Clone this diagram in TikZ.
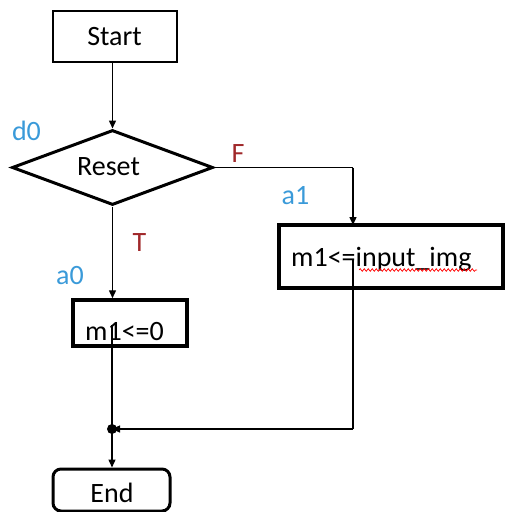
\documentclass[tikz,border=0pt]{standalone}
\usepackage{fontspec}
\setmainfont{Carlito}
\usetikzlibrary{shapes.geometric,arrows.meta,decorations.pathmorphing}
\definecolor{lblblue}{HTML}{3A9AD9}
\definecolor{lblred}{HTML}{A0282A}
\begin{document}
\begin{tikzpicture}[x=1pt,y=-1pt,
  every node/.style={font=\fontsize{28}{33}\selectfont},
  conn/.style={line width=1.4pt,-{Triangle[length=8pt,width=7pt]}},
  plain/.style={line width=1.4pt},
  lblb/.style={text=lblblue,anchor=base,inner sep=0},
  lblr/.style={text=lblred,anchor=base,inner sep=0},
]
\useasboundingbox (0,0) rectangle (506,512);
% nodes
\node[draw,line width=1.3pt,minimum width=124pt,minimum height=51pt,inner sep=0] (start) at (115,36.5) {};
\node[anchor=base,inner sep=0] (starttxt) at (114.5,45) {Start};
\node[draw,diamond,line width=3pt,minimum width=201pt,minimum height=75pt,inner sep=0] (dia) at (112.5,167.5) {};
\node[anchor=base,inner sep=0] (resettxt) at (108.5,175) {Reset};
\node[draw,line width=3.5pt,minimum width=224pt,minimum height=63pt,inner sep=0] (a1box) at (391,256.5) {};
\node[anchor=base west,inner sep=0] (a1txt) at (291,266) {m1<=input\_img};
\node[draw,line width=3.5pt,minimum width=114pt,minimum height=46pt,inner sep=0] (a0box) at (130,323) {};
\node[anchor=base west,inner sep=0] (a0txt) at (85,340) {m1<=0};
\node[draw,rounded corners=8pt,line width=3pt,minimum width=117pt,minimum height=42pt,inner sep=0] (endbox) at (111.5,490) {};
\node[anchor=base,inner sep=0] (endtxt) at (112,502) {End};
% labels
\node[lblb] (d0) at (26.5,140) {d0};
\node[lblr] (F) at (238,162) {F};
\node[lblb] (a1) at (295.5,204) {a1};
\node[lblr] (T) at (139.5,251) {T};
\node[lblb] (a0) at (70,284) {a0};
% coordinates
\coordinate (turn) at (353,167.5);
\coordinate (a1in) at (353,225);
\coordinate (a1out) at (353,260);
\coordinate (a0out) at (112,325);
\coordinate (jn) at (112,429);
\coordinate (jr) at (353,429);
% squiggle
\draw[red,line width=0.7pt,decorate,decoration={snake,amplitude=1.3pt,segment length=4pt}] (359,270) -- (477,270);
% connectors
\draw[conn] (dia.north |- start.south) -- (dia.north);
\draw[plain] (dia.east) -- (turn);
\draw[conn] (turn) -- (a1in);
\draw[conn] (dia.south) -- (dia.south |- a0box.north);
\draw[plain] (a1out) -- (jr);
\draw[conn] (jr) -- (jn);
\draw[plain] (a0out) -- (jn);
\draw[conn] (jn) -- (jn |- endbox.north);
\fill (jn) circle (5pt);
\end{tikzpicture}
\end{document}
